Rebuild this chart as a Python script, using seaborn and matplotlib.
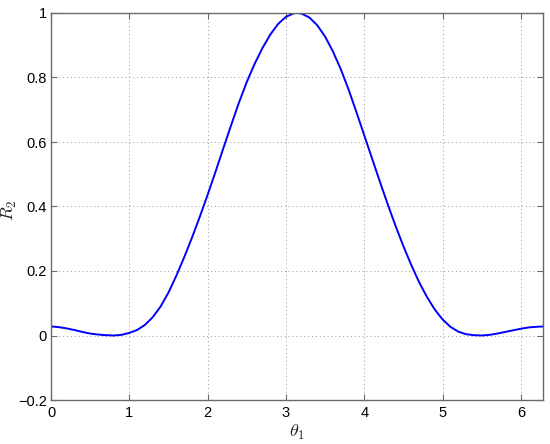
import matplotlib
matplotlib.use("Agg")
import matplotlib.pyplot as plt
import seaborn as sns
import pandas as pd

theta1 = [0.0, 0.1, 0.2, 0.3, 0.4, 0.5, 0.6, 0.7, 0.8, 0.9,
          1.0, 1.1, 1.2, 1.3, 1.4, 1.5, 1.6, 1.7, 1.8, 1.9,
          2.0, 2.1, 2.2, 2.3, 2.4, 2.5, 2.6, 2.7, 2.8, 2.9,
          3.0, 3.1, 3.14, 3.2, 3.3, 3.4, 3.5, 3.6, 3.7, 3.8, 3.9,
          4.0, 4.1, 4.2, 4.3, 4.4, 4.5, 4.6, 4.7, 4.8, 4.9,
          5.0, 5.1, 5.2, 5.3, 5.4, 5.5, 5.6, 5.7, 5.8, 5.9,
          6.0, 6.1, 6.2, 6.283]
r2 = [0.028, 0.026, 0.022, 0.017, 0.011, 0.006, 0.003, 0.001, 0.000, 0.002,
      0.008, 0.017, 0.033, 0.057, 0.090, 0.133, 0.185, 0.242, 0.303, 0.368,
      0.436, 0.507, 0.580, 0.652, 0.722, 0.786, 0.842, 0.891, 0.933, 0.966,
      0.988, 0.999, 1.000, 0.998, 0.986, 0.962, 0.927, 0.881, 0.826, 0.763, 0.693,
      0.621, 0.549, 0.477, 0.407, 0.340, 0.277, 0.219, 0.166, 0.120, 0.081,
      0.050, 0.027, 0.012, 0.004, 0.001, 0.000, 0.002, 0.006, 0.011, 0.016,
      0.021, 0.025, 0.027, 0.028]

x_ticks = [0, 1, 2, 3, 4, 5, 6]
y_ticks = [-0.2, 0, 0.2, 0.4, 0.6, 0.8, 1]
y_ticklabels = ["\u22120.2", "0", "0.2", "0.4", "0.6", "0.8", "1"]

sns.set_style("white")
plt.rcParams['font.family'] = ['Liberation Sans', 'DejaVu Sans']
plt.rcParams['mathtext.fontset'] = 'cm'

df = pd.DataFrame({"theta1": theta1, "R2": r2})

fig = plt.figure(figsize=(5.5, 4.44), dpi=100)
ax = fig.add_axes([51/550, 1-400/444, (543-51)/550, (400-13)/444])
sns.lineplot(data=df, x="theta1", y="R2", ax=ax, color="#0000ff", linewidth=1.4)

ax.set_xlim(0, 6.2832)
ax.set_ylim(-0.2, 1.0)
ax.set_xticks(x_ticks)
ax.set_xticklabels([str(t) for t in x_ticks])
ax.set_yticks(y_ticks)
ax.set_yticklabels(y_ticklabels)
ax.grid(True, linestyle=(0, (1, 3)), color="#9a9a9a", linewidth=0.7)
for s in ax.spines.values():
    s.set_color("#6a6a6a")
    s.set_linewidth(1.0)
    s.set_visible(True)
ax.tick_params(direction="in", length=4, width=0.8, color="#6a6a6a",
               top=True, right=True, bottom=True, left=True,
               labelsize=10.5, labelcolor="black")
ax.tick_params(axis="x", pad=4)
ax.tick_params(axis="y", pad=3)
ax.set_xlabel(r"$\theta_1$", fontsize=13)
ax.set_ylabel(r"$R_2$", fontsize=13)
ax.yaxis.set_label_coords(-0.066, 0.49)
ax.xaxis.set_label_coords(0.5, -0.058)

fig.savefig("out.png", dpi=100)
